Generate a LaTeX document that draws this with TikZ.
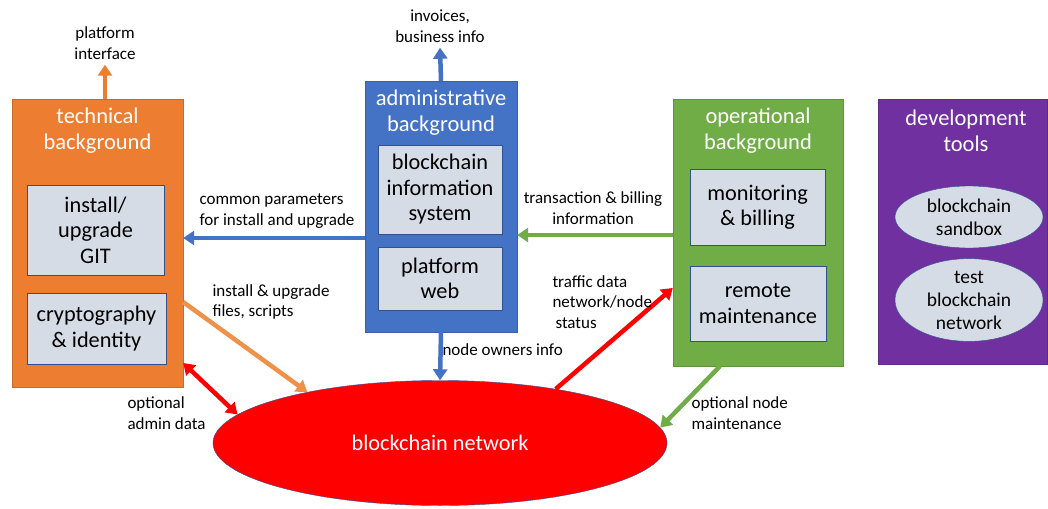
\documentclass[tikz,border=0pt]{standalone}
\usepackage{fontspec}
\setmainfont{Carlito}
\usetikzlibrary{arrows.meta,shapes.geometric}

\definecolor{techorange}{HTML}{ED7D31}
\definecolor{arrorange}{HTML}{F0914A}
\definecolor{adminblue}{HTML}{4472C4}
\definecolor{opsgreen}{HTML}{70AD47}
\definecolor{devpurple}{HTML}{7030A0}
\definecolor{innerfill}{HTML}{D6DCE5}
\definecolor{innerline}{HTML}{2F528F}

\begin{document}
\begin{tikzpicture}[x=1pt,y=-1pt,
    panel/.style={draw=#1!85!black, fill=#1, inner sep=0pt},
    title/.style={text=white, align=center, font=\fontsize{22.5}{26}\selectfont},
    inbox/.style={draw=innerline, fill=innerfill, inner sep=0pt, align=center,
      font=\fontsize{22.3}{25.5}\selectfont},
    inoval/.style={ellipse, draw=innerline, fill=innerfill, inner sep=0pt, align=center,
      font=\fontsize{19.5}{23}\selectfont},
    note/.style={font=\fontsize{17}{20.5}\selectfont},
    fat/.style={#1, line width=4.5pt, -{Triangle[width=14pt,length=11pt]}},
    fatboth/.style={#1, line width=4.5pt, {Triangle[width=14pt,length=11pt]}-{Triangle[width=14pt,length=11pt]}}]
  \useasboundingbox (0,0) rectangle (1048,508);

  % the four backgrounds
  \node[panel=techorange, minimum width=171pt, minimum height=288pt] (tech) at (97.5,243) {};
  \node[panel=adminblue, minimum width=152pt, minimum height=251pt] (admin) at (441,206.5) {};
  \node[panel=opsgreen, minimum width=170pt, minimum height=267pt] (ops) at (758,232.5) {};
  \node[panel=devpurple, minimum width=169pt, minimum height=265pt] (dev) at (962.5,231.5) {};

  \node[title] (techtitle) at (97.5,131) {technical\\background};
  \node[title] (admintitle) at (441,113) {administrative\\background};
  \node[title] (opstitle) at (758,131) {operational\\background};
  \node[title] (devtitle) at (966,131) {development\\tools};

  % inner boxes
  \node[inbox, minimum width=137pt, minimum height=90pt] (git) at (95.5,230) {install/\\upgrade\\GIT};
  \node[inbox, minimum width=139pt, minimum height=71pt] (crypto) at (96.5,328.5) {cryptography\\\& identity};
  \node[inbox, minimum width=124pt, minimum height=89pt] (bis) at (440,189.5) {blockchain\\information\\system};
  \node[inbox, minimum width=124pt, minimum height=63pt] (web) at (440,278.5) {platform\\web};
  \node[inbox, minimum width=135pt, minimum height=76pt] (billing) at (757.5,207) {monitoring\\\& billing};
  \node[inbox, minimum width=136pt, minimum height=75pt] (remote) at (758,303.5) {remote\\maintenance};
  \node[inoval, minimum width=148pt, minimum height=62pt] (sandbox) at (969,217) {blockchain\\sandbox};
  \node[inoval, minimum width=148pt, minimum height=77pt] (testnet) at (969,300) {test\\blockchain\\network};

  % the network
  \node[ellipse, draw=innerline, fill=red, minimum width=454pt, minimum height=125pt,
    text=white, font=\fontsize{22.3}{26}\selectfont] (chain) at (440,443) {blockchain network};

  % outputs at the top
  \node[note, align=center] (pfi) at (105,43) {platform\\interface};
  \node[note, align=center] (invoices) at (440,26) {invoices,\\business info};
  \draw[fat=techorange] (tech.north -| pfi) -- ([yshift=-2pt]pfi.south);
  \draw[fat=adminblue] (admin.north) -- ([yshift=-2pt]invoices.south);

  % flows between the backgrounds
  \draw[fat=adminblue] (admin.west |- 0,238) -- (tech.east |- 0,238);
  \node[note, align=left, anchor=west] (commonlbl) at (196,211) {common parameters\\for install and upgrade};
  \draw[fat=opsgreen] (ops.west |- 0,235) -- (admin.east |- 0,235);
  \node[note, align=center] (txlbl) at (593,208) {transaction \& billing\\information};

  % flows to and from the network
  \draw[fat=arrorange] (tech.east |- 0,302) -- (chain.159);
  \node[note, align=left, anchor=west] (filelbl) at (209,302) {install \& upgrade\\files, scripts};
  \draw[fatboth=red] (tech.east |- 0,363) -- (chain.172);
  \node[note, align=left, anchor=west] (adminlbl) at (124,413) {optional\\admin data};
  \draw[fat=adminblue] (admin.south) -- (chain.north);
  \node[note, anchor=west] (ownerlbl) at (439,350) {node owners info};
  \draw[fat=red] (chain.25) -- (ops.west |- 0,288);
  \node[note, align=left, anchor=west] (trafficlbl) at (549,302) {traffic data\\network/node\\\hspace{3pt}status};
  \draw[fat=opsgreen] (ops.south -| 720,0) -- (chain.4);
  \node[note, align=left, anchor=west] (nodelbl) at (688,413) {optional node\\maintenance};
\end{tikzpicture}
\end{document}
